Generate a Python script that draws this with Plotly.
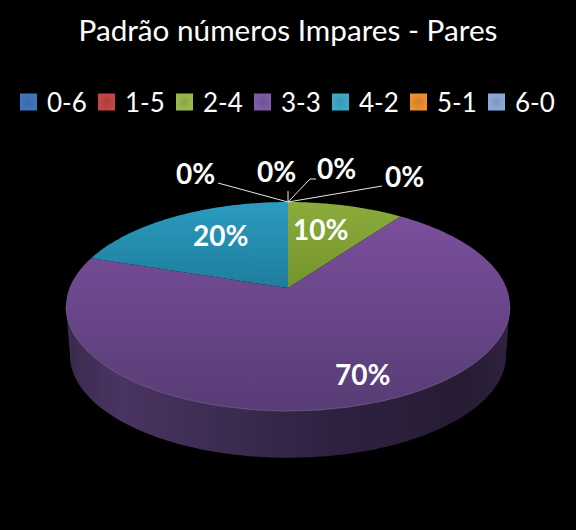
import numpy as np
import plotly.graph_objects as go

# data
categories = ['0-6', '1-5', '2-4', '3-3', '4-2', '5-1', '6-0']
percent = [0, 0, 10, 70, 20, 0, 0]
legend_colors = ['#3f76bd', '#c54643', '#98ba4e', '#7c5da6', '#3fa9c6', '#f0902e', '#8ca9da']
legend_edges = ['#3a6aa8', '#ab3e3b', '#87a545', '#6d5293', '#3896b0', '#d47f29', '#7c96c2']
top_colors = {
    '2-4': ['#8cab3c', '#74952e'],
    '3-3': ['#7a4f9c', '#573c75'],
    '4-2': ['#2a9cc0', '#1f7d9c'],
}

# pie geometry, tilted disc drawn in perspective
cx, cy = 288, 288
rx, ry = 218.5, 101.2
persp = 0.177
depth = 49
shrink = 0.982


def disc(theta, scale=1.0, dy=0.0, r=1.0):
    # theta in degrees, clockwise from 12 o'clock
    t = np.radians(theta)
    xx, yy = r * np.sin(t), r * np.cos(t)
    s = 1 / (1 + persp * yy)
    return cx + rx * scale * xx * s, cy + dy - ry * scale * yy * s


fig = go.Figure()

# side wall, only the part facing the viewer
edge = np.degrees(np.arccos(-persp))
arc = np.linspace(edge, 360 - edge, 160)
tx, ty = disc(arc)
bx, by = disc(arc[::-1], shrink, depth)
fig.add_trace(go.Scatter(
    x=np.r_[tx, bx], y=np.r_[ty, by], mode='none', fill='toself', showlegend=False, hoverinfo='skip',
    fillgradient=dict(type='horizontal', colorscale=[
        [0, '#3a2a4e'], [0.12, '#4a3462'], [0.4, '#3a2a4e'], [0.6, '#2e2140'], [0.9, '#271c34'], [1, '#2e2240'],
    ]),
))

# top face, y axis is flipped so the colorscale runs bottom to top on screen
start = 0
for name, pct in zip(categories, percent):
    if pct == 0:
        continue
    sweep = np.linspace(start, start + pct * 3.6, max(pct * 4, 20))
    ax_, ay_ = disc(sweep)
    c1, c2 = top_colors[name]
    fig.add_trace(go.Scatter(
        x=np.r_[cx, ax_, cx], y=np.r_[cy, ay_, cy], mode='none', fill='toself', showlegend=False,
        hoverinfo='skip',
        fillgradient=dict(type='vertical', colorscale=[[0, c2], [1, c1]]),
    ))
    start += pct * 3.6

# soft highlight on the front rim
fig.add_trace(go.Scatter(x=tx, y=ty, mode='lines', line=dict(color='#7a6392', width=0.7),
                         showlegend=False, hoverinfo='skip'))

# leader lines for the empty slices
ox, oy = disc(0)
leaders = [[(218, 183)], [(ox, 191)], [(310, 179), (316, 179)], [(382, 186)]]
for pts in leaders:
    fig.add_trace(go.Scatter(
        x=[ox] + [p[0] for p in pts], y=[oy] + [p[1] for p in pts], mode='lines',
        line=dict(color='#e8e8e8', width=1), showlegend=False, hoverinfo='skip',
    ))

# data labels, in the order they sit around the pie
label_text = ['20%', '10%', '70%', '0%', '0%', '0%', '0%']
label_x = [220, 320, 362, 195, 276, 336, 404]
label_y = [235, 229, 374, 173, 171, 168, 176]
for t, lx, ly in zip(label_text, label_x, label_y):
    fig.add_annotation(x=lx, y=ly, text='<b>%s</b>' % t, showarrow=False,
                       font=dict(family='Lato', size=28, color='white'))

# legend row, the built in legend caps its swatches and clips the last entry
legend_x0, legend_step, legend_y = 28.5, 78, 102
for i, (name, col, rim) in enumerate(zip(categories, legend_colors, legend_edges)):
    sx = legend_x0 + i * legend_step
    fig.add_trace(go.Scatter(
        x=[sx], y=[legend_y], mode='markers', name=name, showlegend=False, hoverinfo='skip',
        marker=dict(symbol='square', size=17, color=col, line=dict(width=0),
                    gradient=dict(type='radial', color=rim)),
    ))
    fig.add_annotation(x=sx + 16.5, y=legend_y, text=name, showarrow=False, xanchor='left',
                       font=dict(family='Lato', size=26, color='white'))

fig.update_layout(
    width=576, height=530,
    margin=dict(l=0, r=0, t=0, b=0),
    paper_bgcolor='black', plot_bgcolor='black',
    font=dict(family='Lato', color='white'),
    title=dict(text='Padrão números Impares - Pares', x=0.5, xanchor='center', y=1 - 31 / 530, yanchor='middle',
               font=dict(family='Lato', size=29.7, color='white')),
    showlegend=False,
    xaxis=dict(range=[0, 576], visible=False, fixedrange=True),
    yaxis=dict(range=[530, 0], visible=False, fixedrange=True),
)

fig.write_html("out.html", config={'displayModeBar': False},
               post_script="document.body.style.margin='0';document.body.style.background='black';")
